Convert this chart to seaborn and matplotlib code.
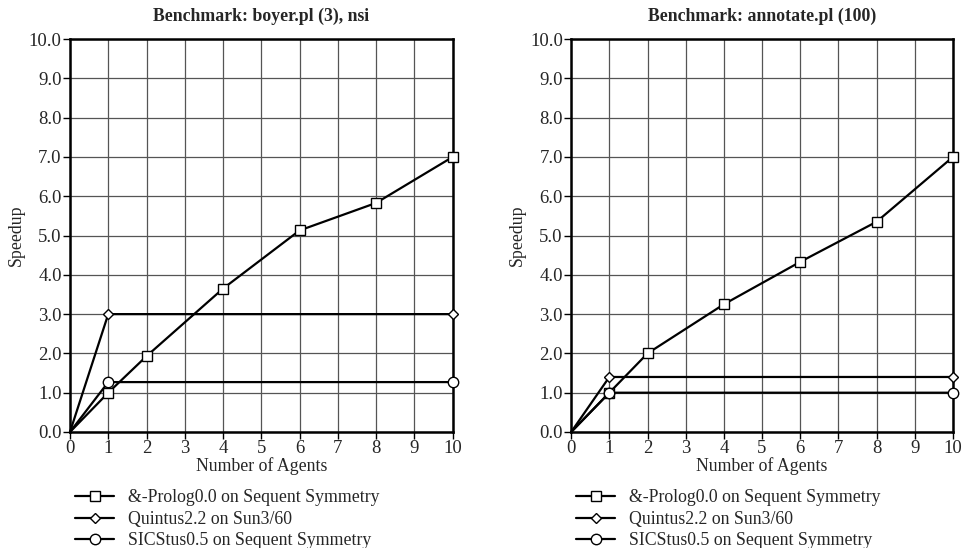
import matplotlib
matplotlib.use("Agg")
import matplotlib.pyplot as plt
import seaborn as sns
import pandas as pd
from matplotlib.ticker import FormatStrFormatter

# Data
titles = ["Benchmark: boyer.pl (3), nsi", "Benchmark: annotate.pl (100)"]
series_names = ["&-Prolog0.0 on Sequent Symmetry", "Quintus2.2 on Sun3/60", "SICStus0.5 on Sequent Symmetry"]

prolog_x = [0, 1, 2, 4, 6, 8, 10]
boyer_prolog = [0, 1.0, 1.93, 3.65, 5.13, 5.83, 7.0]
annot_prolog = [0, 1.0, 2.0, 3.25, 4.33, 5.35, 7.0]

flat_x = [0, 1, 10]
boyer_quintus = [0, 3.0, 3.0]
boyer_sicstus = [0, 1.27, 1.27]
annot_quintus = [0, 1.4, 1.4]
annot_sicstus = [0, 1.0, 1.0]

x_ticks = list(range(0, 11))
y_ticks = [0, 1, 2, 3, 4, 5, 6, 7, 8, 9, 10]

sns.set_style("white")
plt.rcParams["font.family"] = ["Liberation Serif", "DejaVu Serif"]

fig = plt.figure(figsize=(9.64, 5.48), dpi=100)
positions = [[0.0726, 0.2117, 0.397, 0.717], [0.5925, 0.2117, 0.396, 0.717]]

panels = [
    [(prolog_x, boyer_prolog), (flat_x, boyer_quintus), (flat_x, boyer_sicstus)],
    [(prolog_x, annot_prolog), (flat_x, annot_quintus), (flat_x, annot_sicstus)],
]
markers = ["s", "D", "o"]
msizes = [7, 5, 7.5]

for i in range(2):
    ax = fig.add_axes(positions[i])
    for j, (xs, ys) in enumerate(panels[i]):
        df = pd.DataFrame({"x": xs, "y": ys})
        sns.lineplot(data=df, x="x", y="y", ax=ax, color="black", lw=1.6,
                     marker=markers[j], markersize=msizes[j], markerfacecolor="white",
                     markeredgecolor="black", markeredgewidth=1.0, label=series_names[j],
                     markevery=list(range(1, len(xs))), zorder=3, clip_on=False)
    ax.set_xlim(0, 10)
    ax.set_ylim(0, 10)
    ax.set_xticks(x_ticks)
    ax.set_yticks(y_ticks)
    ax.yaxis.set_major_formatter(FormatStrFormatter("%.1f"))
    ax.grid(True, color="#555555", lw=0.9)
    ax.set_axisbelow(True)
    for s in ax.spines.values():
        s.set_visible(True)
        s.set_color("black")
        s.set_linewidth(1.8)
    ax.tick_params(axis="both", which="major", length=5, width=1, color="black",
                   labelsize=13.5, pad=1, direction="out", bottom=True, left=True)
    ax.set_xlabel("Number of Agents", fontsize=12.8, labelpad=0)
    ax.set_ylabel("Speedup", fontsize=12.8, labelpad=3)
    ax.set_title(titles[i], fontsize=12.8, fontweight="bold", pad=13)
    ax.legend(loc="upper left", bbox_to_anchor=(-0.005, -0.128), frameon=False,
              fontsize=12.8, handlelength=2.2, handletextpad=0.75,
              labelspacing=0.25, borderaxespad=0)

fig.savefig("out.png", dpi=100)
